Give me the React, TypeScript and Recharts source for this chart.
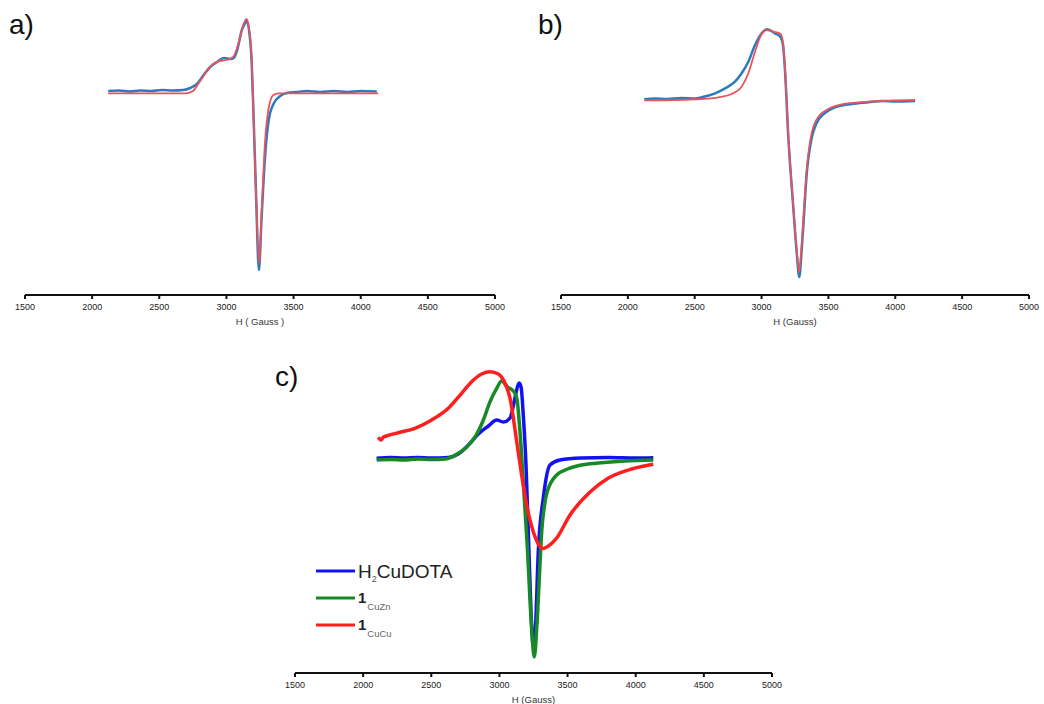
import React from 'react';
import { LineChart, Line, XAxis, YAxis, Legend } from 'recharts';

// Magnetic field axis (Gauss)
const fieldTicks = [1500, 2000, 2500, 3000, 3500, 4000, 4500, 5000];

// a) experimental spectrum and simulated fit
const fieldAExp = [2120, 2200, 2280, 2360, 2440, 2520, 2600, 2680, 2730, 2780, 2830, 2880, 2930, 2980, 3030, 3055, 3080, 3115, 3140, 3152, 3170, 3188, 3200, 3220, 3242, 3262, 3290, 3315, 3350, 3400, 3450, 3520, 3600, 3700, 3800, 3900, 4000, 4120];
const expA = [1, 1.5, 0.5, 1.5, 1, 2, 1.5, 2, 4, 8, 17, 25, 30, 34, 33, 34, 42, 62, 69, 71, 60, 30, -15, -100, -178, -125, -60, -28, -12, -4, -1, 0, 1, 0, 1, 0, 1, 0.5];
const fieldAFit = [2120, 2400, 2700, 2750, 2800, 2850, 2900, 2950, 3000, 3050, 3090, 3120, 3150, 3170, 3188, 3200, 3220, 3244, 3263, 3287, 3312, 3349, 3390, 3600, 3800, 4130];
const fitA = [-1.3, -1.3, -1.3, 1, 10, 20, 28, 31, 32, 35, 49, 65, 73, 62, 32, -18, -101, -172, -118, -51, -18, -3, -1.3, -1.3, -1.3, -1.3];

// b) experimental spectrum and simulated fit
const fieldBExp = [2123, 2200, 2300, 2400, 2500, 2552, 2652, 2727, 2801, 2851, 2901, 2951, 3001, 3040, 3100, 3140, 3160, 3175, 3200, 3237, 3263, 3282, 3300, 3314, 3337, 3375, 3412, 3474, 3549, 3674, 3799, 3900, 4000, 4148];
const expB = [0.7, 1.5, 1, 2, 1.5, 2.7, 6.7, 11.7, 18.3, 26.7, 38.3, 55, 66.7, 70.7, 66.7, 63.3, 55, 30, -37, -107, -153, -177, -150, -122, -75, -38, -23, -13, -7.3, -4, -2.3, -1, -1.5, -1];
const fieldBFit = [2123, 2350, 2552, 2677, 2776, 2851, 2901, 2951, 2996, 3038, 3088, 3143, 3160, 3175, 3200, 3237, 3263, 3280, 3297, 3312, 3337, 3375, 3424, 3499, 3599, 3799, 4148];
const fitB = [-0.3, 0, 1, 2.7, 6, 13.3, 26.7, 48.3, 65, 70, 68.3, 66, 58, 32, -35, -107, -150, -172, -150, -120, -70, -33, -17, -9, -4.3, -1.7, 0];

// c) comparison of the three complexes
const fieldCuDota = [2099, 2200, 2300, 2400, 2500, 2625, 2698, 2772, 2845, 2919, 2980, 3029, 3078, 3114, 3134, 3146, 3160, 3175, 3195, 3212, 3232, 3249, 3266, 3285, 3322, 3371, 3444, 3600, 3800, 4000, 4129];
const cuDota = [-0.3, 0.5, 0, 0.5, 0, 0.5, 4, 13, 24, 32, 38, 36, 40, 60, 72, 75, 70, 43, -7, -74, -155, -188, -165, -94, -40, -7, -2, 0, 0.5, 0, 0.3];
const fieldCuZn = [2099, 2200, 2300, 2400, 2500, 2600, 2677, 2750, 2823, 2882, 2931, 2980, 3016, 3060, 3102, 3127, 3151, 3175, 3205, 3236, 3256, 3276, 3298, 3310, 3330, 3350, 3420, 3500, 3600, 3726, 3922, 4129];
const cuZn = [-2, -1.5, -2, -1, -1.5, -1, 3, 9.7, 21.3, 38, 56.3, 69.7, 77, 71, 67, 60, 26, -24, -90, -170, -199, -165, -105, -74, -48, -34, -17, -11, -7, -5, -3, -2];
const fieldCuCu = [2111, 2130, 2150, 2170, 2258, 2380, 2503, 2625, 2723, 2796, 2870, 2931, 2992, 3041, 3078, 3127, 3163, 3200, 3249, 3290, 3322, 3360, 3420, 3518, 3665, 3800, 3970, 4129];
const cuCu = [20.7, 18, 21, 22, 25.3, 29.7, 38, 49.7, 64.7, 76.3, 84, 86.3, 84, 74.7, 59.7, 16.3, -17, -47, -74, -87, -90.5, -88, -80, -57, -34, -20, -11, -6.3];

const toPoints = (fields: number[], values: number[]) =>
  fields.map((field, i) => ({ field, value: values[i] }));

const FONT = '"Liberation Sans", Arial, sans-serif';

type Series = { name: string; points: { field: number; value: number }[]; color: string; width: number };

interface PanelProps {
  left: number;
  top: number;
  width: number;
  height: number;
  margin: { top: number; right: number; bottom: number; left: number };
  axisHeight: number;
  yDomain: [number, number];
  title: string;
  titleOffset: number;
  series: Series[];
  children?: React.ReactNode;
}

const SpectrumPanel: React.FC<PanelProps> = ({ left, top, width, height, margin, axisHeight, yDomain, title, titleOffset, series, children }) => (
  <div style={{ position: 'absolute', left, top }}>
    <LineChart width={width} height={height} margin={margin}>
      <XAxis
        type="number"
        dataKey="field"
        domain={[1500, 5000]}
        ticks={fieldTicks}
        allowDataOverflow
        height={axisHeight}
        axisLine={{ stroke: '#111', strokeWidth: 2 }}
        tickLine={{ stroke: '#111', strokeWidth: 2 }}
        tickSize={4}
        tickMargin={5}
        tick={{ fontSize: 9, fill: '#222', fontFamily: FONT }}
        label={{ value: title, position: 'insideBottom', offset: titleOffset, fontSize: 9.5, fill: '#333', fontFamily: FONT }}
      />
      <YAxis hide type="number" domain={yDomain} allowDataOverflow />
      {series.map((s) => (
        <Line
          key={s.name}
          name={s.name}
          data={s.points}
          dataKey="value"
          type="monotone"
          stroke={s.color}
          strokeWidth={s.width}
          dot={false}
          activeDot={false}
          isAnimationActive={false}
        />
      ))}
      {children}
    </LineChart>
  </div>
);

const panelLabel = (text: string, left: number, top: number) => (
  <div style={{ position: 'absolute', left, top, fontSize: 28, lineHeight: '28px', fontFamily: FONT, color: '#111' }}>{text}</div>
);

const ComplexLegend = () => (
  <svg width={160} height={90} style={{ fontFamily: FONT }}>
    <line x1={6} x2={45} y1={16} y2={16} stroke="#1212f0" strokeWidth={3} />
    <text x={48} y={23} fontSize={19} fill="#222">
      H<tspan fontSize={9} dy={4} fill="#555">2</tspan>
      <tspan dy={-4}>CuDOTA</tspan>
    </text>
    <line x1={6} x2={45} y1={43} y2={43} stroke="#178a26" strokeWidth={3} />
    <text x={48} y={48} fontSize={15} fontWeight="bold" fill="#222">
      1<tspan fontSize={9.5} fontWeight="normal" dy={7} dx={1} fill="#666">CuZn</tspan>
    </text>
    <line x1={6} x2={45} y1={70} y2={70} stroke="#ff1e1e" strokeWidth={3} />
    <text x={48} y={75} fontSize={15} fontWeight="bold" fill="#222">
      1<tspan fontSize={9.5} fontWeight="normal" dy={7} dx={1} fill="#666">CuCu</tspan>
    </text>
  </svg>
);

export default function App() {
  const expColor = '#2a7bbd';
  const fitColor = '#e8545b';
  return (
    <div style={{ position: 'absolute', left: 0, top: 0, width: 1044, height: 704, overflow: 'hidden', background: '#fff' }}>
      {panelLabel('a)', 9, 11)}
      {panelLabel('b)', 538, 11)}
      {panelLabel('c)', 275, 363)}

      <SpectrumPanel
        left={0}
        top={0}
        width={520}
        height={340}
        margin={{ top: 0, right: 25, bottom: 5, left: 25 }}
        axisHeight={40}
        yDomain={[-203, 92]}
        title="H ( Gauss )"
        titleOffset={10}
        series={[
          { name: 'experimental', points: toPoints(fieldAExp, expA), color: expColor, width: 2.5 },
          { name: 'simulation', points: toPoints(fieldAFit, fitA), color: fitColor, width: 1.8 },
        ]}
      />

      <SpectrumPanel
        left={520}
        top={0}
        width={524}
        height={340}
        margin={{ top: 0, right: 15, bottom: 5, left: 41 }}
        axisHeight={40}
        yDomain={[-195, 100]}
        title="H (Gauss)"
        titleOffset={10}
        series={[
          { name: 'experimental', points: toPoints(fieldBExp, expB), color: expColor, width: 2.5 },
          { name: 'simulation', points: toPoints(fieldBFit, fitB), color: fitColor, width: 1.8 },
        ]}
      />

      <SpectrumPanel
        left={270}
        top={350}
        width={520}
        height={354}
        margin={{ top: 0, right: 18, bottom: 0, left: 25 }}
        axisHeight={31}
        yDomain={[-215, 108]}
        title="H (Gauss)"
        titleOffset={1}
        series={[
          { name: 'H2CuDOTA', points: toPoints(fieldCuDota, cuDota), color: '#1212f0', width: 3.5 },
          { name: '1CuZn', points: toPoints(fieldCuZn, cuZn), color: '#178a26', width: 3.5 },
          { name: '1CuCu', points: toPoints(fieldCuCu, cuCu), color: '#ff1e1e', width: 3.5 },
        ]}
      >
        <Legend
          layout="vertical"
          align="center"
          verticalAlign="middle"
          wrapperStyle={{ left: 40, top: 205, width: 160, height: 90 }}
          content={() => <ComplexLegend />}
        />
      </SpectrumPanel>
    </div>
  );
}
